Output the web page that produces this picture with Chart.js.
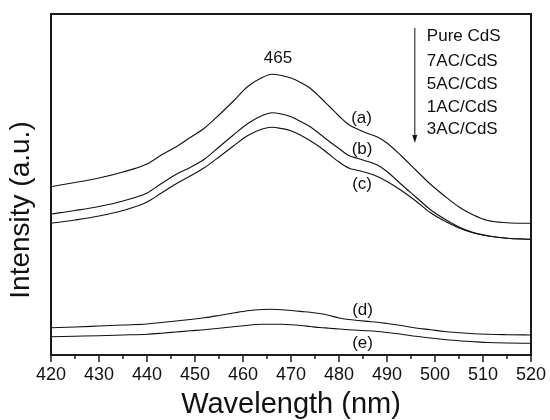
<!DOCTYPE html>
<html>
<head>
<meta charset="utf-8">
<script src="https://cdn.jsdelivr.net/npm/chart.js@4"></script>
<style>
  html, body { margin: 0; padding: 0; background: #fff; }
  #wrap { width: 550px; height: 420px; }
</style>
</head>
<body>
<div id="wrap"><canvas id="c" width="550" height="420"></canvas></div>
<script>
// ---- data ----
const wavelength = [420, 425, 430, 435, 440, 443, 446, 449, 452, 455, 458, 461, 464, 466, 468, 470, 472, 474, 476, 478, 480, 482, 484, 486, 488, 490, 493, 496, 499, 502, 505, 508, 511, 515, 520];
const pureCdS = [168.3, 172.5, 177, 183, 191, 200, 208, 217.5, 227, 240, 254, 268.5, 277.5, 280.7, 279.5, 277, 272.5, 266.7, 258, 248.5, 239, 230.5, 225.5, 221.5, 218, 212, 199, 185, 171, 159, 148, 140, 134.5, 132.3, 131.7];
const ac7CdS = [141, 144.5, 148.5, 154, 162, 171.5, 180.5, 187.5, 196, 208, 220, 231.5, 239.5, 242.3, 241, 238.3, 233.5, 228.3, 221, 213.5, 206.5, 199.5, 196.5, 193.5, 190, 183.5, 170.5, 158, 145.5, 136, 128, 122.5, 119.3, 116.7, 115.7];
const ac5CdS = [131.7, 135, 139, 144.5, 153, 162, 171, 179, 187.5, 198, 209, 219.5, 226, 227.7, 226.5, 224.3, 219.8, 214.3, 208, 200.5, 193, 187, 184.5, 182, 178.5, 173.5, 164.5, 154, 142.5, 134, 127, 122, 119, 116.7, 115.7];
const ac1CdS = [27.3, 28, 29, 30, 31, 32.5, 34, 35.5, 37.2, 39.5, 42, 44.3, 45.5, 45.7, 45.3, 44.5, 43.6, 42.8, 41.5, 39.5, 37, 35.5, 34.5, 33.6, 32.7, 31.5, 29.5, 27, 25.3, 23.5, 22.3, 21.3, 20.7, 20.3, 20];
const ac3CdS = [18.3, 18.8, 19.3, 20, 20.8, 21.8, 23, 24.2, 25.3, 26.8, 28.3, 29.8, 30.7, 30.8, 30.7, 30.2, 29.5, 28.5, 27.5, 26.8, 26, 25.3, 24.7, 24.2, 23.5, 22.5, 20.8, 18.7, 17, 15.5, 14.2, 13.3, 12.5, 12, 11.7];
const seriesNames = ['Pure CdS', '7AC/CdS', '5AC/CdS', '1AC/CdS', '3AC/CdS'];
const seriesValues = [pureCdS, ac7CdS, ac5CdS, ac1CdS, ac3CdS];
const xTicks = [420, 430, 440, 450, 460, 470, 480, 490, 500, 510, 520];
const curveTags = ['(a)', '(b)', '(c)', '(d)', '(e)'];
const xTitle = 'Wavelength (nm)';
const yTitle = 'Intensity (a.u.)';
const peakText = '465';

// ---- annotation anchors (data units) ----
const curveTagX = [484.7, 484.8, 484.8, 484.9, 484.9];
const curveTagY = [236.7, 205.7, 171, 45, 11.7];
const peakTextAt = { x: 467.3, y: 297 };
const legendAt = { x: 498.3, y: [319, 294, 271, 248, 226] };
const arrowAt = { x: 495.8, y0: 327, y1: 212 };

const FONT = '"Liberation Sans", Arial, Helvetica, sans-serif';

const datasets = seriesValues.map((vals, i) => ({
  label: seriesNames[i],
  data: wavelength.map((w, j) => ({ x: w, y: vals[j] })),
  borderColor: '#111',
  borderWidth: 1.1,
  pointRadius: 0,
  fill: false,
  cubicInterpolationMode: 'monotone'
}));

const decor = {
  id: 'decor',
  afterDatasetsDraw(chart) {
    const { ctx, chartArea: a, scales: { x, y } } = chart;
    ctx.save();
    // frame
    ctx.strokeStyle = '#1a1a1a';
    ctx.lineWidth = 2;
    ctx.strokeRect(a.left, a.top, a.right - a.left, a.bottom - a.top);
    // major & minor ticks (outside, bottom)
    ctx.lineWidth = 1.5;
    ctx.beginPath();
    xTicks.forEach((v, i) => {
      const px = x.getPixelForValue(v);
      ctx.moveTo(px, a.bottom); ctx.lineTo(px, a.bottom + 7);
      if (i < xTicks.length - 1) {
        const m = x.getPixelForValue((v + xTicks[i + 1]) / 2);
        ctx.moveTo(m, a.bottom); ctx.lineTo(m, a.bottom + 4);
      }
    });
    ctx.stroke();

    ctx.fillStyle = '#111';
    ctx.textBaseline = 'middle';
    // curve tags
    ctx.font = '17px ' + FONT;
    ctx.textAlign = 'center';
    curveTags.forEach((t, i) => {
      ctx.fillText(t, x.getPixelForValue(curveTagX[i]), y.getPixelForValue(curveTagY[i]));
    });
    // peak label
    ctx.fillText(peakText, x.getPixelForValue(peakTextAt.x), y.getPixelForValue(peakTextAt.y));
    // legend list
    ctx.textAlign = 'left';
    seriesNames.forEach((n, i) => {
      ctx.fillText(n, x.getPixelForValue(legendAt.x), y.getPixelForValue(legendAt.y[i]));
    });
    // arrow
    const ax = x.getPixelForValue(arrowAt.x);
    const ay0 = y.getPixelForValue(arrowAt.y0);
    const ay1 = y.getPixelForValue(arrowAt.y1);
    ctx.strokeStyle = '#111';
    ctx.lineWidth = 1;
    ctx.beginPath();
    ctx.moveTo(ax, ay0); ctx.lineTo(ax, ay1 - 6);
    ctx.stroke();
    ctx.beginPath();
    ctx.moveTo(ax, ay1); ctx.lineTo(ax - 2.5, ay1 - 8); ctx.lineTo(ax + 2.5, ay1 - 8);
    ctx.closePath(); ctx.fill();

    // axis titles
    ctx.textAlign = 'center';
    ctx.font = '29px ' + FONT;
    ctx.fillText(xTitle, (a.left + a.right) / 2, 405);
    ctx.font = '28px ' + FONT;
    ctx.save();
    ctx.translate(21, 210);
    ctx.rotate(-Math.PI / 2);
    ctx.fillText(yTitle, 0, 0);
    ctx.restore();
    ctx.restore();
  }
};

new Chart(document.getElementById('c'), {
  type: 'line',
  data: { datasets },
  options: {
    responsive: false,
    devicePixelRatio: 1,
    animation: false,
    layout: { padding: { left: 51, top: 14, right: 19, bottom: 0 } },
    plugins: { legend: { display: false }, tooltip: { enabled: false } },
    scales: {
      x: {
        type: 'linear',
        min: 420, max: 520,
        afterBuildTicks: (s) => { s.ticks = xTicks.map(v => ({ value: v })); },
        afterFit: (s) => { s.height = 65; s.paddingLeft = 0; s.paddingRight = 0; },
        grid: { display: false, drawTicks: false },
        border: { display: false },
        ticks: {
          autoSkip: false, maxRotation: 0, padding: 9,
          color: '#111',
          font: { family: FONT, size: 18 }
        }
      },
      y: {
        display: false,
        min: 0, max: 341
      }
    }
  },
  plugins: [decor]
});
</script>
</body>
</html>
